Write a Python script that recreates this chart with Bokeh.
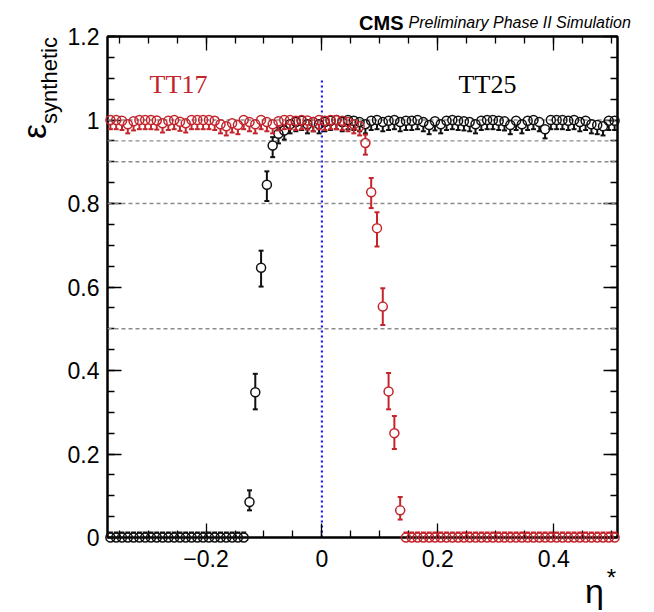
import numpy as np
from bokeh.plotting import figure
from bokeh.models import Span, Range1d, LinearAxis, FixedTicker, CustomJSTickFormatter
from bokeh.core.properties import value
from bokeh.embed import file_html
from bokeh.resources import INLINE

# ---------------- data ----------------
eta = list(np.round(np.linspace(-0.365, 0.505, 88), 3))

tt17_eff = ([1.0, 1.0, 0.998, 0.99, 0.997, 1.0, 1.0, 1.0, 0.999, 0.992, 0.998,
             1.0, 0.996, 0.992, 1.0, 1.0, 1.0, 1.0, 0.998, 0.99, 0.985, 0.992,
             0.988, 1.0, 0.995, 0.99, 1.0, 0.995, 0.99, 0.997, 1.0, 1.0, 0.998,
             1.0, 0.999, 0.995, 1.0, 0.998, 1.0, 1.0, 0.998, 0.995, 0.99, 0.985]
            + [0.945, 0.827, 0.741, 0.553, 0.350, 0.250, 0.065]
            + [0.0] * 37)
tt17_err_up = [0.0] * 44 + [0.020, 0.034, 0.038, 0.044, 0.044, 0.041, 0.032] + [0.012] * 37
tt17_err_dn = [0.022] * 44 + [0.028, 0.038, 0.044, 0.044, 0.043, 0.038, 0.022] + [0.0] * 37

tt25_eff = ([0.0] * 24
            + [0.085, 0.348, 0.646, 0.845, 0.939, 0.967, 0.975]
            + [0.99, 0.995, 0.998, 0.99, 0.995, 0.99, 0.995, 0.998, 1.0, 0.995,
               1.0, 0.998, 0.995, 0.99, 0.998, 1.0, 0.995, 0.998, 1.0, 0.995,
               0.998, 0.998, 1.0, 0.995, 0.988, 0.997, 0.99, 0.998, 1.0, 0.998,
               0.997, 0.995, 0.99, 0.998, 1.0, 1.0, 0.998, 0.997, 0.988, 0.998,
               0.99, 0.998, 1.0, 0.995, 0.978, 1.0, 1.0, 1.0, 0.998, 1.0,
               0.995, 0.998, 0.99, 0.988, 0.985, 0.998, 0.998])
tt25_err_up = [0.012] * 24 + [0.028, 0.044, 0.041, 0.032, 0.020, 0.015, 0.012] + [0.0] * 57
tt25_err_dn = [0.0] * 24 + [0.020, 0.041, 0.045, 0.039, 0.028, 0.023, 0.022] + [0.022] * 57

ref_lines = [1.0, 0.95, 0.9, 0.8, 0.5]
boundary_eta = 0.0
boundary_top = 1.1

x_ticks = [-0.2, 0.0, 0.2, 0.4]
y_ticks = [0.0, 0.2, 0.4, 0.6, 0.8, 1.0, 1.2]

# ---------------- layout ----------------
W, H = 654, 612
FL, FR, FT, FB = 107, 37, 36, 75
X0, X1 = -0.37, 0.51
Y0, Y1 = 0.0, 1.2
FW, FH = W - FL - FR, H - FT - FB

def dx(px):
    return X0 + (px - FL) / FW * (X1 - X0)

def dy(py):
    return Y0 + (H - FB - py) / FH * (Y1 - Y0)

RED = "#c4252c"
BLACK = "#111111"

p = figure(width=W, height=H, x_range=Range1d(X0, X1), y_range=Range1d(Y0, Y1),
           output_backend="svg", toolbar_location=None,
           min_border_left=FL, min_border_right=FR, min_border_top=FT, min_border_bottom=FB,
           x_axis_location=None, y_axis_location=None)
p.xgrid.visible = False
p.ygrid.visible = False
p.outline_line_color = "black"
p.outline_line_width = 2
p.background_fill_color = "white"
p.border_fill_color = "white"

fmt = CustomJSTickFormatter(code="""
if (Math.abs(tick) < 1e-9) return '0';
if (Math.abs(tick - Math.round(tick)) < 1e-9) return String(Math.round(tick));
return (tick < 0 ? '\u2212' : '') + Math.abs(tick).toFixed(1);
""")

xminor = list(np.round(np.arange(-0.35, 0.51, 0.05), 3))
yminor = list(np.round(np.arange(0.0, 1.201, 0.05), 3))

def style_axis(ax, labels=True):
    ax.axis_line_color = "black"
    ax.axis_line_width = 2
    ax.major_tick_in = 14
    ax.major_tick_out = 0
    ax.minor_tick_in = 7
    ax.minor_tick_out = 0
    ax.major_tick_line_color = "black"
    ax.minor_tick_line_color = "black"
    ax.major_tick_line_width = 1.3
    ax.minor_tick_line_width = 1.3
    if labels:
        ax.major_label_text_font = "Liberation Sans"
        ax.major_label_text_font_size = "23px"
        ax.major_label_text_color = "black"
        ax.formatter = fmt
    else:
        ax.major_label_text_font_size = "0px"
        ax.major_label_text_color = None

xb = LinearAxis(ticker=FixedTicker(ticks=x_ticks, minor_ticks=xminor))
style_axis(xb)
xb.major_label_standoff = 12
p.add_layout(xb, "below")
xt = LinearAxis(ticker=FixedTicker(ticks=x_ticks, minor_ticks=xminor))
style_axis(xt, labels=False)
p.add_layout(xt, "above")
yl = LinearAxis(ticker=FixedTicker(ticks=y_ticks, minor_ticks=yminor))
style_axis(yl)
yl.major_label_standoff = 8
p.add_layout(yl, "left")
yr = LinearAxis(ticker=FixedTicker(ticks=y_ticks, minor_ticks=yminor))
style_axis(yr, labels=False)
p.add_layout(yr, "right")

for v in ref_lines:
    p.add_layout(Span(location=v, dimension="width", line_color="#8c8c8c",
                      line_dash="4 3", line_width=1.3))

p.segment(x0=[boundary_eta], y0=[0.0], x1=[boundary_eta], y1=[boundary_top],
          line_color="#1a1aff", line_width=2.2, line_dash="2 3")

MARK = 9
gap = (MARK / 2) / FH * (Y1 - Y0)

def draw_series(xs, ys, up, dn, color):
    sx0, sy0, sy1, cx, cy = [], [], [], [], []
    for x, y, u, d in zip(xs, ys, up, dn):
        hi = min(1.0, y + u)
        lo = max(0.0, y - d)
        if hi - y > gap:
            sx0.append(x); sy0.append(y + gap); sy1.append(hi)
            cx.append(x); cy.append(hi)
        if y - lo > gap:
            sx0.append(x); sy0.append(y - gap); sy1.append(lo)
            cx.append(x); cy.append(lo)
    p.segment(x0=sx0, y0=sy0, x1=sx0, y1=sy1, line_color=color, line_width=2,
              level="overlay")
    p.scatter(x=cx, y=cy, marker="dash", size=5, line_color=color, line_width=2,
              level="overlay")
    p.scatter(x=xs, y=ys, marker="circle", size=MARK, line_color=color,
              line_width=1.5, fill_color=None, level="overlay")

draw_series(eta, tt25_eff, tt25_err_up, tt25_err_dn, BLACK)
draw_series(eta, tt17_eff, tt17_err_up, tt17_err_dn, RED)

# ---------------- texts (overlay level so they are not clipped) ----------------
def txt(px, py, s, size, color="black", font="Liberation Sans", style="normal",
        align="left", baseline="alphabetic", angle=0.0):
    p.text(x=[dx(px)], y=[dy(py)], text=[s], text_color=color,
           text_font=value(font), text_font_style=style, text_font_size=size,
           text_align=align, text_baseline=baseline, angle=angle, level="overlay")

txt(178, 84, "TT17", "26px", color=RED, font="Liberation Serif", align="center", baseline="middle")
txt(487, 84, "TT25", "26px", font="Liberation Serif", align="center", baseline="middle")

txt(403, 22, "CMS", "20px", style="bold", align="right", baseline="middle")
txt(408, 22, "Preliminary Phase II Simulation", "16px", style="italic", baseline="middle")

# y-axis title: epsilon with subscript
txt(33, 131, "\u03b5", "34px", align="center", baseline="middle", angle=np.pi / 2)
txt(49, 80, "synthetic", "22px", align="center", baseline="middle", angle=np.pi / 2)

# x-axis title
txt(594, 590, "\u03b7", "34px", align="center", baseline="middle")
txt(611, 577, "*", "24px", align="center", baseline="middle")

open("out.html", "w").write(file_html(p, INLINE))
